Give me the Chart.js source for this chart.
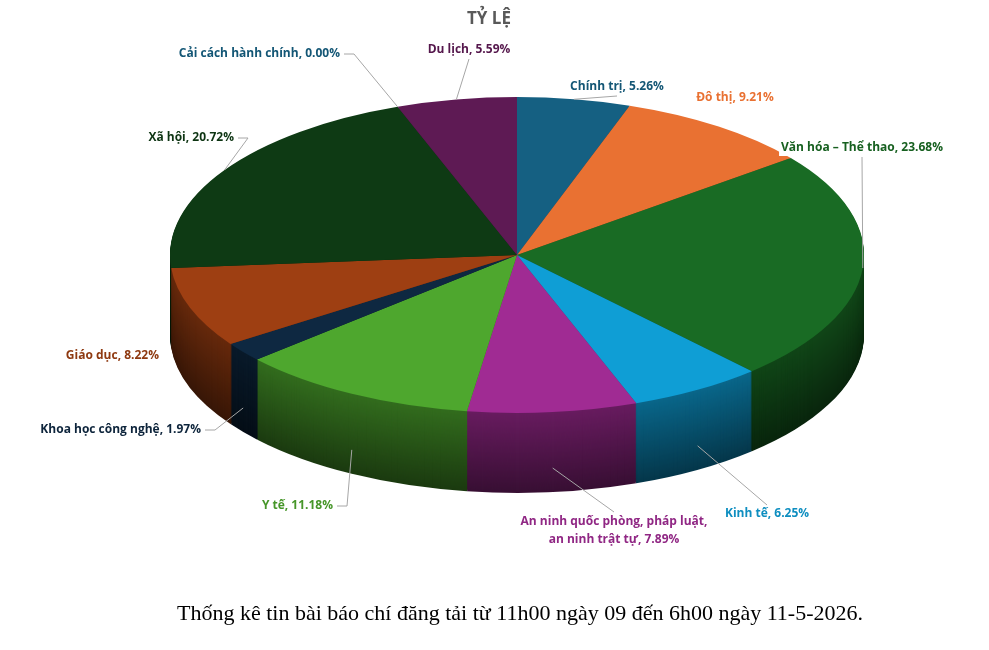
<!DOCTYPE html>
<html>
<head>
<meta charset="utf-8">
<script src="https://cdn.jsdelivr.net/npm/chart.js@4.4.1/dist/chart.umd.min.js"></script>
<style>
	html, body { margin: 0; padding: 0; background: #ffffff; }
	#wrap { position: relative; width: 989px; height: 650px; }
	#title { position: absolute; left: 0; width: 978px; top: 6px; text-align: center;
		font: bold 17px "Open Sans", sans-serif; color: #595959; }
	#note { position: absolute; left: 0; width: 1040px; top: 600px; text-align: center;
		font: 22px "Liberation Serif", "Times New Roman", serif; color: #000; }
</style>
</head>
<body>
<div id="wrap">
	<canvas id="chartPie" width="989" height="650"></canvas>
	<div id="title">TỶ LỆ</div>
	<div id="note">Thống kê tin bài báo chí đăng tải từ 11h00 ngày 09 đến 6h00 ngày 11-5-2026.</div>
</div>
<script>
	'use strict';

	const categories = ['Chính trị', 'Đô thị', 'Văn hóa – Thể thao', 'Kinh tế',
		'An ninh quốc phòng, pháp luật, an ninh trật tự', 'Y tế', 'Khoa học công nghệ',
		'Giáo dục', 'Xã hội', 'Cải cách hành chính', 'Du lịch'];
	const percents = [5.26, 9.21, 23.68, 6.25, 7.89, 11.18, 1.97, 8.22, 20.72, 0.00, 5.59];
	const colors = ['#156082', '#E97132', '#196B24', '#0F9ED5', '#A02B93', '#4EA72E',
		'#0E2841', '#9E3F12', '#0E3A14', '#156082', '#5E1A54'];

	// label placement: [x, y, align, lines]
	const labelPos = [
		[617, 87, 'center'], [735, 98, 'center'], [862, 148, 'center'], [767, 514, 'center'],
		[614, 522, 'center', ['An ninh quốc phòng, pháp luật,', 'an ninh trật tự, 7.89%']],
		[333, 506, 'right'], [201, 430, 'right'], [159, 356, 'right'], [234, 138, 'right'],
		[340, 54, 'right'], [469, 50, 'center']
	];

	const squash = 0.455;
	const depth = 80;

	const shade = function (hex, f) {
		const n = parseInt(hex.slice(1), 16);
		const r = Math.round(((n >> 16) & 255) * f);
		const g = Math.round(((n >> 8) & 255) * f);
		const b = Math.round((n & 255) * f);
		return 'rgb(' + r + ',' + g + ',' + b + ')';
	};

	const squashCtx = function (ctx, cx, cy) {
		ctx.translate(cx, cy);
		ctx.scale(1, squash);
		ctx.translate(-cx, -cy);
	};

	const pie3d = {
		id: 'pie3d',
		beforeDatasetsDraw(chart) {
			const ctx = chart.ctx;
			const arcs = chart.getDatasetMeta(0).data;
			const cx = arcs[0].x, cy = arcs[0].y;
			for (let t = depth; t >= 1; t--) {
				ctx.save();
				ctx.translate(0, t);
				squashCtx(ctx, cx, cy);
				arcs.forEach(function (a, i) {
					if (a.endAngle - a.startAngle <= 0) return;
					ctx.beginPath();
					ctx.moveTo(a.x, a.y);
					ctx.arc(a.x, a.y, a.outerRadius, a.startAngle, a.endAngle);
					ctx.closePath();
					ctx.fillStyle = shade(colors[i], 0.35 + 0.3 * (1 - t / depth));
					ctx.fill();
				});
				ctx.restore();
			}
			ctx.save();
			squashCtx(ctx, cx, cy);
		},
		afterDatasetsDraw(chart) {
			const ctx = chart.ctx;
			ctx.restore();
			const arcs = chart.getDatasetMeta(0).data;
			ctx.save();
			ctx.font = 'bold 12px "Open Sans", sans-serif';
			ctx.textBaseline = 'middle';
			arcs.forEach(function (a, i) {
				const p = labelPos[i];
				const mid = (a.startAngle + a.endAngle) / 2;
				const ex = a.x + a.outerRadius * Math.cos(mid);
				let ey = a.y + a.outerRadius * Math.sin(mid) * squash;
				if (Math.sin(mid) > 0.3) ey += depth * 0.7;
				const lines = p[3] || [categories[i] + ', ' + percents[i].toFixed(2) + '%'];
				const w = Math.max.apply(null, lines.map(function (l) { return ctx.measureText(l).width; }));
				let lx = p[2] === 'right' ? p[0] + 4 : p[0];
				let ly = p[1];
				if (p[2] === 'center') ly = ey < p[1] ? p[1] - 9 : p[1] + 9 * lines.length;
				if (p[2] === 'center' && lines.length > 1) ly = p[1] - 10;
				const dist = Math.hypot(ex - lx, ey - ly);
				if (dist > 30) {
					ctx.strokeStyle = '#A6A6A6';
					ctx.lineWidth = 1;
					ctx.beginPath();
					ctx.moveTo(lx, ly);
					if (p[2] === 'right') ctx.lineTo(lx + 10, ly);
					ctx.lineTo(ex, ey);
					ctx.stroke();
				}
				ctx.fillStyle = shade(colors[i], i === 1 ? 1 : 0.9);
				ctx.textAlign = p[2] === 'right' ? 'right' : 'center';
				lines.forEach(function (l, j) {
					const y = p[1] + j * 18;
					if (p[2] === 'center') {
						ctx.fillStyle = '#ffffff';
						ctx.fillRect(p[0] - w / 2 - 2, y - 8, w + 4, 16);
						ctx.fillStyle = shade(colors[i], i === 1 ? 1 : 0.9);
					}
					ctx.fillText(l, p[0], y);
				});
			});
			ctx.restore();
		}
	};

	new Chart(document.getElementById('chartPie'), {
		type: 'pie',
		data: {
			labels: categories,
			datasets: [{
				data: percents,
				backgroundColor: colors,
				borderWidth: 0,
				clip: false
			}]
		},
		options: {
			responsive: false,
			animation: false,
			radius: 347,
			layout: { padding: { left: 45, right: 0, top: 0, bottom: 140 } },
			plugins: { legend: { display: false }, tooltip: { enabled: false } }
		},
		plugins: [pie3d]
	});
</script>
</body>
</html>
